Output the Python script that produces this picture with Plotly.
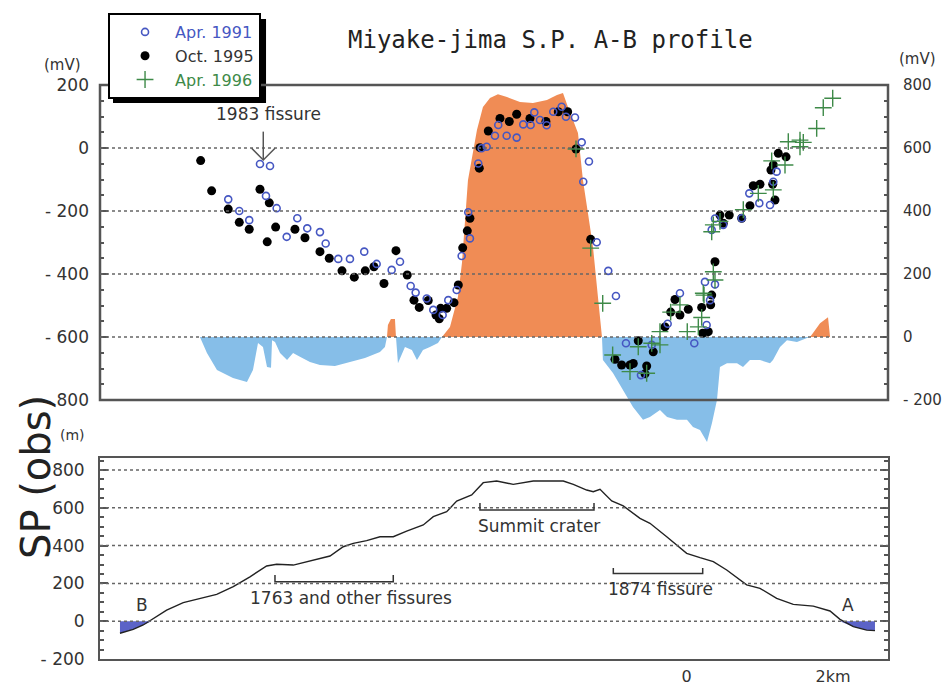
import numpy as np
import plotly.graph_objects as go

# ---------------- data ----------------
# distance along profile (km, 0 = origin of scale bar); SP in mV (left axis)
oct95_km = [-6.644, -6.494, -6.267, -6.116, -5.980, -5.833, -5.706, -5.619, -5.734, -5.355,
            -5.218, -5.013, -4.886, -4.712, -4.544, -4.394, -4.275, -4.138, -3.974, -3.820,
            -3.728, -3.656, -3.533, -3.427, -3.382, -3.363, -3.281, -3.181, -3.122, -3.062,
            -2.999, -2.963, -2.835, -2.826, -2.712, -2.552, -2.425, -2.324, -2.142, -1.924,
            -1.755, -1.627, -1.513, -1.312, -0.662, -0.457, -0.980, -0.889, -0.775, -0.730,
            -0.547, -0.570, -0.297, -0.160, -0.219, -0.092, 0.022, 0.205, 0.328, 0.295,
            0.219, 0.387, 0.342, 0.455, 0.582, 0.752, 0.865, 0.910, 1.002, 1.207,
            1.176, 1.184, 1.252, 1.358, 1.152, 0.500]
oct95_mv = [-40, -136, -194, -236, -258, -131, -174, -251, -298, -258,
            -285, -329, -350, -390, -410, -390, -377, -430, -326, -403,
            -483, -506, -484, -530, -542, -509, -509, -491, -435, -317,
            -263, -223, -64, 1, 54, 94, 84, 107, 94, 84,
            115, 115, -3, -290, -612, -647, -671, -689, -689, -684,
            -692, -717, -568, -481, -521, -530, -512, -506, -498, -583,
            -588, -361, -467, -213, -213, -223, -183, -120, -115, -165,
            -115, -54, -17, -28, -70, -239]

apr91_km = [-5.833, -5.696, -5.751, -5.605, -6.267, -6.116, -5.980, -5.323, -5.468, -5.187,
            -5.013, -4.935, -4.763, -4.603, -4.408, -4.238, -4.033, -3.919, -3.773, -3.705,
            -3.554, -3.464, -3.336, -3.259, -3.144, -3.076, -2.986, -2.963, -2.849, -2.803,
            -2.734, -2.621, -2.461, -2.324, -2.576, -2.234, -2.133, -2.083, -2.006, -1.914,
            -1.824, -1.709, -1.650, -1.527, -1.435, -1.336, -1.414, -1.230, -1.072, -0.967,
            -0.830, -0.625, -0.478, -0.260, -0.092, 0.104, 0.250, 0.387, 0.319, 0.273,
            0.387, 0.500, 0.752, 0.856, 0.993, 1.139, 1.184, 1.230, 0.342]
apr91_mv = [-51, -57, -152, -191, -163, -200, -229, -223, -282, -255,
            -267, -303, -352, -352, -329, -368, -387, -361, -438, -459,
            -478, -514, -530, -483, -451, -343, -204, -287, -49, -1,
            4, 39, 39, 33, 73, 75, 73, 113, 89, 72,
            115, 131, 99, 97, 18, -43, -107, -299, -390, -470,
            -620, -721, -625, -558, -461, -620, -425, -433, -483, -562,
            -224, -244, -223, -144, -175, -181, -107, -75, -260]

apr96_km = [-1.513, -1.312, -1.148, -1.012, -0.775, -0.547, -0.662, -0.478, -0.365, -0.365,
            -0.219, -0.092, 0.008, 0.159, 0.205, 0.237, 0.387, 0.342, 0.364, 0.227,
            0.364, 0.455, 0.774, 0.979, 1.184, 1.162, 1.344, 1.389, 1.549, 1.549,
            1.594, 1.777, 1.867, 1.996]
apr96_mv = [-3, -318, -493, -657, -710, -715, -631, -620, -625, -583,
            -521, -498, -583, -568, -538, -467, -419, -266, -393, -461,
            -244, -233, -196, -144, -133, -41, -54, 20, 25, 4,
            18, 62, 128, 158]

# residual SP (right axis, mV)
resid_km = [-6.654, -6.558, -6.421, -6.202, -6.011, -5.929, -5.860, -5.792, -5.737, -5.682,
            -5.668, -5.627, -5.559, -5.463, -5.381, -5.287, -5.150, -5.013, -4.808, -4.603,
            -4.398, -4.193, -4.125, -4.097, -4.084, -4.043, -3.988, -3.974, -3.947, -3.851,
            -3.756, -3.687, -3.605, -3.510, -3.400, -3.345, -3.236, -3.127, -3.072, -2.990,
            -2.867, -2.785, -2.689, -2.580, -2.457, -2.279, -2.101, -1.910, -1.773, -1.691,
            -1.623, -1.554, -1.486, -1.418, -1.350, -1.281, -1.213, -1.158, -1.145, -1.008,
            -0.871, -0.734, -0.597, -0.502, -0.365, -0.269, -0.133, 0.004, 0.086, 0.182,
            0.278, 0.346, 0.414, 0.455, 0.551, 0.688, 0.770, 0.865, 1.002, 1.139,
            1.180, 1.276, 1.371, 1.508, 1.645, 1.686, 1.727, 1.823, 1.932, 1.960]
resid_mv = [0, -51, -105, -130, -143, -105, -19, -32, -95, -98,
            -10, -16, -51, -73, -51, -63, -79, -89, -92, -79,
            -67, -48, -32, 0, 38, 57, 57, 0, -83, -32,
            -41, -73, -41, -32, -19, 0, 32, 127, 235, 498,
            657, 730, 759, 771, 762, 746, 743, 752, 768, 775,
            730, 689, 648, 498, 394, 286, 127, 0, -73, -114,
            -168, -222, -263, -254, -232, -254, -263, -263, -286, -295,
            -333, -273, -200, -95, -83, -83, -95, -73, -73, -83,
            -73, -32, -10, -16, -3, 0, 13, 44, 63, 0]

# topography (m)
topo_km = [-7.747, -7.566, -7.429, -7.314, -7.109, -6.882, -6.654, -6.425, -6.198, -5.970,
           -5.742, -5.605, -5.378, -5.105, -4.876, -4.695, -4.558, -4.375, -4.193, -4.011,
           -3.828, -3.601, -3.464, -3.281, -3.144, -2.939, -2.781, -2.597, -2.371, -2.097,
           -1.687, -1.550, -1.367, -1.277, -1.185, -1.025, -0.867, -0.638, -0.502, -0.273,
           0.0, 0.182, 0.364, 0.547, 0.820, 1.002, 1.230, 1.457, 1.731, 1.959,
           2.096, 2.278, 2.461, 2.574]
topo_m = [-64, -43, -20, 10, 59, 98, 121, 142, 183, 235,
          292, 301, 297, 324, 345, 394, 412, 426, 447, 447,
          477, 509, 553, 579, 636, 668, 733, 742, 724, 742,
          742, 724, 694, 685, 698, 636, 610, 544, 518, 447,
          359, 336, 315, 271, 192, 174, 121, 89, 80, 54,
          10, -29, -47, -50]

LEFT_TICKS = [200, 0, -200, -400, -600, -800]
LEFT_TEXT = ["200", "0", "- 200", "- 400", "- 600", "- 800"]
RIGHT_TICKS = [800, 600, 400, 200, 0, -200]
RIGHT_TEXT = ["800", "600", "400", "200", "0", "- 200"]
ELEV_TICKS = [800, 600, 400, 200, 0, -200]
ELEV_TEXT = ["800", "600", "400", "200", "0", "- 200"]
X_TICKS = [0, 2]
X_TEXT = ["0", "2km"]
TOP_GRID = [0, -200, -400, -600]
BOT_GRID = [800, 600, 400, 200, 0]
RIGHT_OFFSET = 600   # right axis = left axis + 600 mV

# ---------------- styling ----------------
FONT = "DejaVu Sans"
BLUE = "#4657c2"
GREEN = "#3e8a48"
ORANGE = "#F08C55"
LBLUE = "#86BEE8"
PURPLE = "#5b63c7"
GRIDC = "#666666"
AXC = "#555555"
TXT = "#333333"
XR = [-8.02, 2.752]

fig = go.Figure()

res = np.array(resid_mv, dtype=float)
fig.add_trace(go.Scatter(x=resid_km, y=np.clip(res, None, 0), mode="none", fill="tozeroy",
                         fillcolor=LBLUE, xaxis="x", yaxis="y3", showlegend=False, hoverinfo="skip"))
fig.add_trace(go.Scatter(x=resid_km, y=np.clip(res, 0, None), mode="none", fill="tozeroy",
                         fillcolor=ORANGE, xaxis="x", yaxis="y3", showlegend=False, hoverinfo="skip"))

fig.add_trace(go.Scatter(x=oct95_km, y=np.array(oct95_mv) + RIGHT_OFFSET, mode="markers",
                         marker=dict(symbol="circle", size=9, color="black"),
                         name="Oct. 1995", legendrank=2, xaxis="x", yaxis="y3"))
fig.add_trace(go.Scatter(x=apr91_km, y=np.array(apr91_mv) + RIGHT_OFFSET, mode="markers",
                         marker=dict(symbol="circle-open", size=7, color=BLUE, line=dict(width=1.6)),
                         name="<span style='color:%s'>Apr. 1991</span>" % BLUE, legendrank=1,
                         xaxis="x", yaxis="y3"))
fig.add_trace(go.Scatter(x=apr96_km, y=np.array(apr96_mv) + RIGHT_OFFSET, mode="markers",
                         marker=dict(symbol="cross-thin-open", size=12, color=GREEN, line=dict(width=1.4, color=GREEN)),
                         name="<span style='color:%s'>Apr. 1996</span>" % GREEN, legendrank=3,
                         xaxis="x", yaxis="y3"))

# axis holders
fig.add_trace(go.Scatter(x=[None], y=[None], xaxis="x", yaxis="y", showlegend=False))
fig.add_trace(go.Scatter(x=[None], y=[None], xaxis="x", yaxis="y2", showlegend=False))

# bottom panel: topography
topo = np.array(topo_m, dtype=float)
fig.add_trace(go.Scatter(x=topo_km, y=np.minimum(topo, 0), mode="none", fill="tozeroy",
                         fillcolor=PURPLE, xaxis="x2", yaxis="y4", showlegend=False, hoverinfo="skip"))
fig.add_trace(go.Scatter(x=topo_km, y=topo, mode="lines", line=dict(color="#222222", width=1.4),
                         xaxis="x2", yaxis="y4", showlegend=False))

ytick_common = dict(ticks="inside", ticklen=8, tickwidth=2, tickcolor=AXC, automargin=False,
                    minor=dict(dtick=50, ticks="inside", ticklen=4, tickwidth=1.5, tickcolor=AXC, showgrid=False),
                    showgrid=False, zeroline=False)

shapes = []
# legend drop shadow (drawn beneath the legend box)
shapes.append(dict(type="rect", xref="paper", yref="paper", x0=0.0165, x1=0.2107, y0=0.9686, y1=1.115,
                   fillcolor="black", line=dict(width=0), layer="below"))
# top panel frame
shapes.append(dict(type="rect", xref="x domain", yref="y domain", x0=0, x1=1, y0=0, y1=1,
                   line=dict(color=AXC, width=2.5), layer="above"))
for v in TOP_GRID:
    shapes.append(dict(type="line", xref="x domain", yref="y", x0=0, x1=1, y0=v, y1=v,
                       line=dict(color=GRIDC, width=1.5, dash="dot"), layer="above"))
for v in BOT_GRID:
    shapes.append(dict(type="line", xref="x2 domain", yref="y4", x0=0, x1=1, y0=v, y1=v,
                       line=dict(color=GRIDC, width=1.5, dash="dot"), layer="above"))
# 1983 fissure arrow
shapes.append(dict(type="line", xref="x", yref="y", x0=-5.788, x1=-5.788, y0=52, y1=-38,
                   line=dict(color=AXC, width=1.5)))
shapes.append(dict(type="path", xref="x", yref="y", path="M -5.947 -1 L -5.788 -38 L -5.628 -1",
                   line=dict(color=AXC, width=1.5)))
# brackets in bottom panel
for x0, x1, yb, yt in [(-2.826, -1.267, 588, 625), (-1.003, 0.219, 253, 281), (-5.628, -4.011, 209, 244)]:
    shapes.append(dict(type="path", xref="x2", yref="y4",
                       path="M %g %g L %g %g L %g %g L %g %g" % (x0, yt, x0, yb, x1, yb, x1, yt),
                       line=dict(color=TXT, width=1.5)))

ann = []
def A(text, x, y, xref="paper", yref="paper", size=15, family=FONT, **kw):
    ann.append(dict(text=text, x=x, y=y, xref=xref, yref=yref, showarrow=False,
                    xanchor="center", yanchor="middle",
                    font=dict(family=family, size=size, color=kw.pop("color", TXT)), **kw))

A("Miyake-jima S.P. A-B profile", 0.5723, 1.0784, size=24, family="DejaVu Sans Mono", color="#222222")
A("(mV)", -0.047, 1.0348, size=15)
A("(mV)", 1.038, 1.046, size=15)
A("(m)", -0.0355, 0.3902, size=14)
A("SP (obs)", -0.0812, 0.3171, size=40, textangle=-90, color="#222222")
A("1983 fissure", -5.71, 108, xref="x", yref="y", size=17)
A("Summit crater", -2.019, 504, xref="x2", yref="y4", size=17)
A("1874 fissure", -0.358, 169, xref="x2", yref="y4", size=17)
A("1763 and other fissures", -4.592, 121, xref="x2", yref="y4", size=17)
A("B", -7.451, 86, xref="x2", yref="y4", size=17)
A("A", 2.209, 86, xref="x2", yref="y4", size=17)

fig.update_layout(
    width=945, height=687,
    margin=dict(l=100, r=57, t=85, b=28, autoexpand=False),
    paper_bgcolor="white", plot_bgcolor="rgba(0,0,0,0)",
    showlegend=True,
    legend=dict(x=0.0102, y=1.1254, xanchor="left", yanchor="top", bgcolor="white",
                bordercolor="black", borderwidth=2, itemwidth=50, indentation=5,
                font=dict(family=FONT, size=16, color=TXT)),
    xaxis=dict(domain=[0, 1], range=XR, anchor="y", showticklabels=False, showgrid=False,
               zeroline=False, ticks="", showline=False, automargin=False),
    yaxis=dict(domain=[0.45122, 1], range=[-800, 200], anchor="x", tickvals=LEFT_TICKS,
               ticktext=LEFT_TEXT, ticklabelstandoff=10,
               tickfont=dict(family=FONT, size=17, color=TXT), **ytick_common),
    yaxis2=dict(overlaying="y", side="right", range=[-200, 800], anchor="x", tickvals=RIGHT_TICKS,
                ticktext=RIGHT_TEXT, ticklabelstandoff=14,
                tickfont=dict(family=FONT, size=15, color=TXT), **ytick_common),
    yaxis3=dict(domain=[0.37282, 1], range=[-342.86, 800], anchor="x", visible=False, automargin=False),
    xaxis2=dict(domain=[0, 1], range=XR, anchor="y4", tickvals=X_TICKS, ticktext=X_TEXT, ticks="",
                showgrid=False, zeroline=False, showline=True, linecolor=AXC, linewidth=2, mirror=True,
                automargin=False, ticklabelstandoff=2,
                tickfont=dict(family=FONT, size=16, color=TXT)),
    yaxis4=dict(domain=[0, 0.35017], range=[-200, 863.5], anchor="x2", tickvals=ELEV_TICKS,
                ticktext=ELEV_TEXT, showline=True, linecolor=AXC, linewidth=2, mirror="allticks",
                ticklabelstandoff=10, tickfont=dict(family=FONT, size=17, color=TXT), **ytick_common),
    shapes=shapes, annotations=ann,
)

fig.write_html("out.html")
